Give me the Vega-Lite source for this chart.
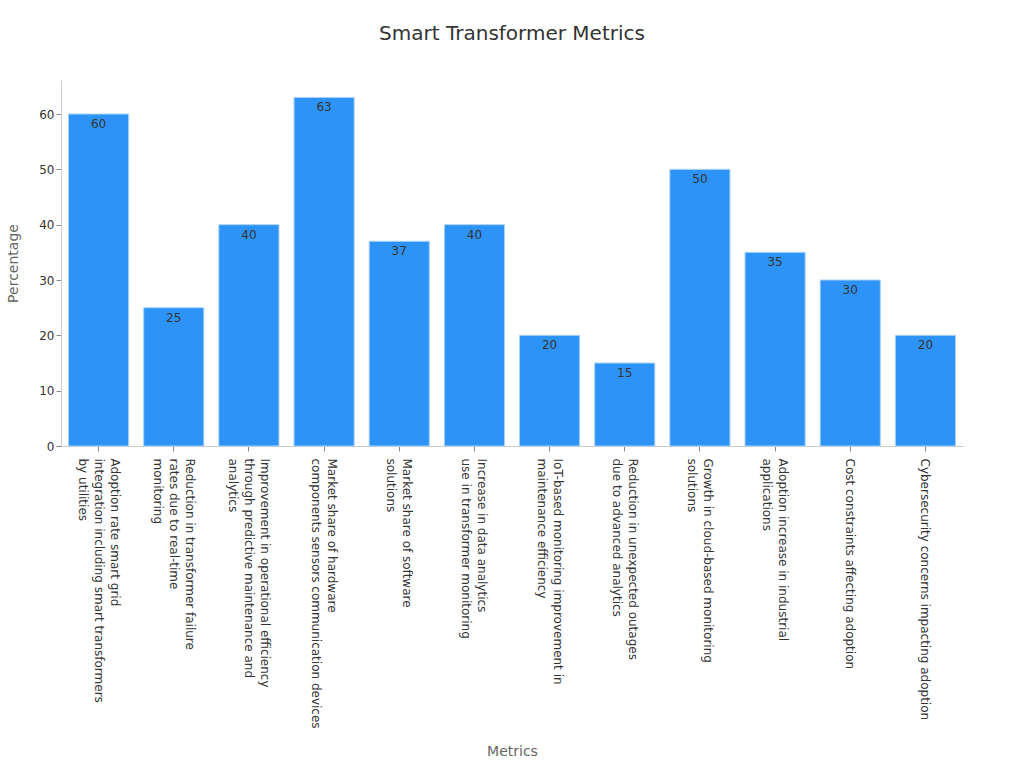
{
  "$schema": "https://vega.github.io/schema/vega-lite/v6.json",
  "autosize": "none",
  "padding": {"left": 61, "top": 80, "right": 61, "bottom": 322},
  "width": 902,
  "height": 366,
  "title": {"text": "Smart Transformer Metrics", "fontSize": 20, "fontWeight": "normal", "color": "#333333", "font": "DejaVu Sans", "offset": 36},
  "config": {
    "view": {"stroke": null},
    "font": "DejaVu Sans",
    "axis": {"grid": false, "domainColor": "#cccccc", "tickColor": "#888888", "labelColor": "#333333", "labelFontSize": 12, "titleColor": "#666666", "titleFontSize": 14, "titleFontWeight": "normal"}
  },
  "data": {
    "values": [
      {"metric": "Adoption rate smart grid\nintegration including smart transformers\nby utilities", "value": 60},
      {"metric": "Reduction in transformer failure\nrates due to real-time\nmonitoring", "value": 25},
      {"metric": "Improvement in operational efficiency\nthrough predictive maintenance and\nanalytics", "value": 40},
      {"metric": "Market share of hardware\ncomponents sensors communication devices", "value": 63},
      {"metric": "Market share of software\nsolutions", "value": 37},
      {"metric": "Increase in data analytics\nuse in transformer monitoring", "value": 40},
      {"metric": "IoT-based monitoring improvement in\nmaintenance efficiency", "value": 20},
      {"metric": "Reduction in unexpected outages\ndue to advanced analytics", "value": 15},
      {"metric": "Growth in cloud-based monitoring\nsolutions", "value": 50},
      {"metric": "Adoption increase in industrial\napplications", "value": 35},
      {"metric": "Cost constraints affecting adoption", "value": 30},
      {"metric": "Cybersecurity concerns impacting adoption", "value": 20}
    ]
  },
  "encoding": {
    "x": {
      "field": "metric", "type": "nominal", "sort": null, "title": "Metrics",
      "scale": {"paddingInner": 0.2, "paddingOuter": 0.1},
      "axis": {
        "labelAngle": 90, "labelAlign": "left", "labelBaseline": "middle", "labelLineHeight": 16, "labelPadding": 7,
        "labelExpr": "split(datum.label, '\\n')", "labelLimit": 400,
        "labelOffset": {"condition": [
          {"test": "length(split(datum.value, '\\n')) == 3", "value": 16},
          {"test": "length(split(datum.value, '\\n')) == 2", "value": 8}
        ], "value": 0},
        "titleY": 305, "titleBaseline": "middle"
      }
    },
    "y": {
      "field": "value", "type": "quantitative", "title": "Percentage",
      "scale": {"domain": [0, 66.15], "nice": false},
      "axis": {"values": [0, 10, 20, 30, 40, 50, 60], "titlePadding": 18}
    }
  },
  "layer": [
    {"mark": {"type": "bar", "color": "#2e93f6", "stroke": "#a9d1fa", "strokeWidth": 1}},
    {"mark": {"type": "text", "baseline": "middle", "dy": 10, "fontSize": 12, "color": "#333333"}, "encoding": {"text": {"field": "value", "type": "quantitative"}}}
  ]
}
